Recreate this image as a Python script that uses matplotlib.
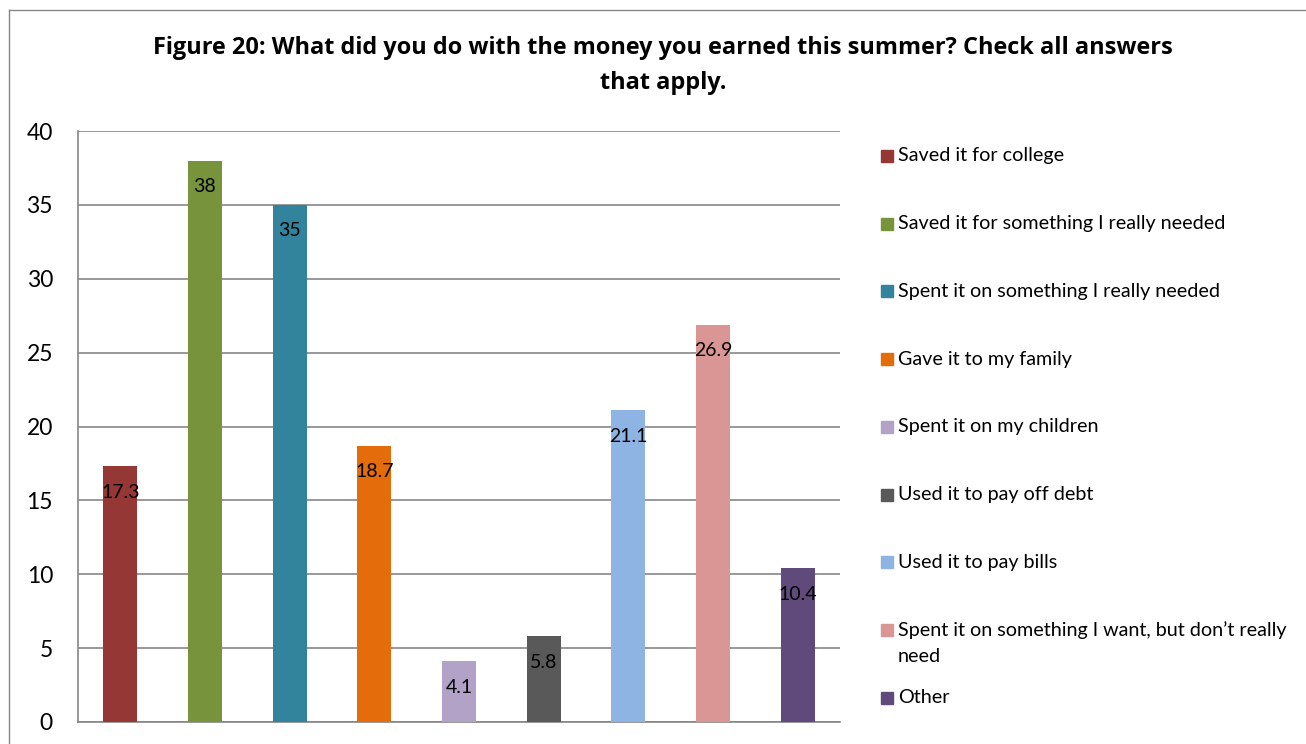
import textwrap
import matplotlib
matplotlib.use("Agg")
import matplotlib.pyplot as plt
from matplotlib.patches import Rectangle
from matplotlib.lines import Line2D

categories = [
    "Saved it for college",
    "Saved it for something I really needed",
    "Spent it on something I really needed",
    "Gave it to my family",
    "Spent it on my children",
    "Used it to pay off debt",
    "Used it to pay bills",
    "Spent it on something I want, but don\u2019t really need",
    "Other",
]
values = [17.3, 38, 35, 18.7, 4.1, 5.8, 21.1, 26.9, 10.4]
value_labels = ["17.3", "38", "35", "18.7", "4.1", "5.8", "21.1", "26.9", "10.4"]
colors = ["#953735", "#77933C", "#31849B", "#E46C0A", "#B3A2C7",
          "#595959", "#8EB4E3", "#D99694", "#604A7B"]
yticks = [0, 5, 10, 15, 20, 25, 30, 35, 40]
title = ("Figure 20: What did you do with the money you earned this summer? "
         "Check all answers\nthat apply.")

plt.rcParams['font.family'] = ['Lato', 'DejaVu Sans']

W, H = 1306, 744
fig = plt.figure(figsize=(W / 100, H / 100), dpi=100)
GRAY = "#868686"

# outer chart frame
fig.add_artist(Line2D([8.5 / W, 8.5 / W], [0, 1 - 9.5 / H], transform=fig.transFigure,
                      color=GRAY, lw=1.0))
fig.add_artist(Line2D([8.5 / W, 1], [1 - 9.5 / H, 1 - 9.5 / H], transform=fig.transFigure,
                      color=GRAY, lw=1.0))

ax = fig.add_axes([78 / W, 1 - 722 / H, (840 - 78) / W, (722 - 131) / H])
x = list(range(len(categories)))
bars = ax.bar(x, values, width=0.4, color=colors, zorder=3)
ax.set_xlim(-0.5, len(categories) - 0.5)
ax.set_ylim(0, 40)
ax.set_yticks(yticks)
ax.set_yticklabels([str(t) for t in yticks], fontsize=16.5)
ax.set_xticks([])
ax.tick_params(axis='y', length=0, pad=18)
ax.grid(axis='y', color=GRAY, lw=1.2, zorder=0)
ax.set_axisbelow(True)
for s in ["top", "right"]:
    ax.spines[s].set_visible(False)
for s in ["left", "bottom"]:
    ax.spines[s].set_color(GRAY)
    ax.spines[s].set_linewidth(1.2)

for xi, v, lab in zip(x, values, value_labels):
    ax.annotate(lab, (xi, v), xytext=(0, -26), textcoords='offset pixels',
                ha='center', va='center', fontsize=14, color='black', zorder=4)

fig.text(663 / W, 1 - 65.5 / H, title, ha='center', va='center', fontsize=16.9,
         fontweight='bold', linespacing=1.6, family=['Open Sans', 'DejaVu Sans'])

# legend
y0 = 156
dy = 67.7
for i, (cat, c) in enumerate(zip(categories, colors)):
    yc = y0 + i * dy
    fig.add_artist(Rectangle((881 / W, 1 - (yc + 6) / H), 12 / W, 12 / H,
                             transform=fig.transFigure, color=c))
    for j, line in enumerate(textwrap.wrap(cat, 46)):
        fig.text(898 / W, 1 - (yc + j * 27) / H, line, ha='left', va='center',
                 fontsize=14.2, color='black')

fig.savefig("out.png", dpi=100)
